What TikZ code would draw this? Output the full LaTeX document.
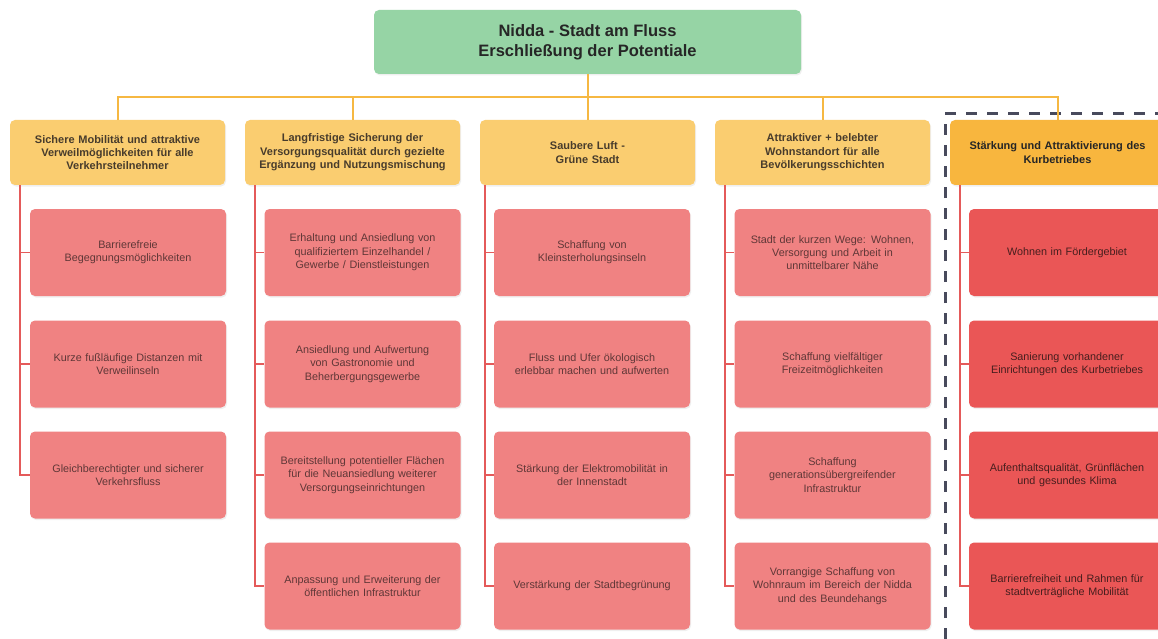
\documentclass[tikz,border=0pt]{standalone}
\usepackage{fontspec}
\setmainfont{Liberation Sans}
\usetikzlibrary{shadows}
\definecolor{titlegreen}{RGB}{150,212,165}
\definecolor{headyellow}{RGB}{250,205,112}
\definecolor{headorange}{RGB}{248,182,62}
\definecolor{childred}{RGB}{240,130,130}
\definecolor{childstrong}{RGB}{234,86,86}
\definecolor{linered}{RGB}{228,90,90}
\definecolor{lineorange}{RGB}{246,184,66}
\definecolor{dashgray}{RGB}{72,74,92}
\definecolor{headtext}{RGB}{72,60,44}
\definecolor{childtext}{RGB}{95,55,55}
\definecolor{childtextstrong}{RGB}{70,30,30}
\tikzset{
  x=1pt, y=-1pt,
  box/.style={rounded corners=5pt, align=center, inner sep=3pt,
    drop shadow={opacity=0.12, shadow xshift=1pt, shadow yshift=-1.5pt}},
  titlebox/.style={box, fill=titlegreen, minimum width=427pt, minimum height=64pt,
    font=\bfseries\fontsize{16.5}{20}\selectfont, text=black!85},
  headbox/.style={box, fill=headyellow, minimum width=215pt, minimum height=65pt,
    text width=209pt, font=\bfseries\fontsize{11}{13.4}\selectfont, text=headtext},
  headstrong/.style={headbox, fill=headorange, text=black!85},
  childbox/.style={box, fill=childred, minimum width=194pt, minimum height=87pt,
    text width=190pt, font=\fontsize{10.8}{13.3}\selectfont, text=childtext},
  childstrongbox/.style={childbox, fill=childstrong, text=childtextstrong},
  orln/.style={draw=lineorange, line width=2pt},
  redln/.style={draw=linered, line width=1.8pt},
  dashbox/.style={draw=dashgray, line width=3pt, dash pattern=on 11pt off 10pt}
}
\begin{document}
\begin{tikzpicture}
\useasboundingbox (0,0) rectangle (1158,639);
\clip (0,0) rectangle (1158,639);
\fill[white] (0,0) rectangle (1158,639);

% title
\node[titlebox] (title) at (587.5,42) {Nidda - Stadt am Fluss\\Erschließung der Potentiale};

% headings
\node[headbox] (h1) at (117.5,152.5) {Sichere Mobilität und attraktive\\Verweilmöglichkeiten für alle\\Verkehrsteilnehmer};
\node[headbox] (h2) at (352.5,152.5) {Langfristige Sicherung der\\Versorgungsqualität durch gezielte\\Ergänzung und Nutzungsmischung};
\node[headbox] (h3) at (587.5,152.5) {Saubere Luft -\\Grüne Stadt};
\node[headbox] (h4) at (822.5,152.5) {Attraktiver + belebter\\Wohnstandort für alle\\Bevölkerungsschichten};

% dashed frame
\coordinate (dA) at (945,660);
\coordinate (dB) at (945,114);
\coordinate (dC) at (1180,114);
\draw[dashbox] (dA) -- (dB) -- (dC);

\node[headstrong] (h5) at (1057.5,152.5) {Stärkung und Attraktivierung des\\Kurbetriebes};

% orange connectors
\coordinate (bus) at (587.5,97);
\draw[orln] (title.south) -- (title.south |- bus);
\draw[orln] (h1.north) -- (h1.north |- bus) -- (h5.north |- bus) -- (h5.north);
\draw[orln] (h2.north) -- (h2.north |- bus);
\draw[orln] (h3.north) -- (h3.north |- bus);
\draw[orln] (h4.north) -- (h4.north |- bus);

% column 1
\node[childbox] (c11) at (128,252.5) {Barrierefreie\\Begegnungsmöglichkeiten};
\node[childbox] (c12) at (128,364) {Kurze fußläufige Distanzen mit\\Verweilinseln};
\node[childbox] (c13) at (128,475) {Gleichberechtigter und sicherer\\Verkehrsfluss};

% column 2
\node[childbox] (c21) at (362.5,252.5) {Erhaltung und Ansiedlung von\\qualifiziertem Einzelhandel /\\Gewerbe / Dienstleistungen};
\node[childbox] (c22) at (362.5,364) {Ansiedlung und Aufwertung\\von Gastronomie und\\Beherbergungsgewerbe};
\node[childbox] (c23) at (362.5,475) {Bereitstellung potentieller Flächen\\für die Neuansiedlung weiterer\\Versorgungseinrichtungen};
\node[childbox] (c24) at (362.5,586) {Anpassung und Erweiterung der\\öffentlichen Infrastruktur};

% column 3
\node[childbox] (c31) at (592,252.5) {Schaffung von\\Kleinsterholungsinseln};
\node[childbox] (c32) at (592,364) {Fluss und Ufer ökologisch\\erlebbar machen und aufwerten};
\node[childbox] (c33) at (592,475) {Stärkung der Elektromobilität in\\der Innenstadt};
\node[childbox] (c34) at (592,586) {Verstärkung der Stadtbegrünung};

% column 4
\node[childbox] (c41) at (832.5,252.5) {Stadt der kurzen Wege: Wohnen,\\Versorgung und Arbeit in\\unmittelbarer Nähe};
\node[childbox] (c42) at (832.5,364) {Schaffung vielfältiger\\Freizeitmöglichkeiten};
\node[childbox] (c43) at (832.5,475) {Schaffung\\generationsübergreifender\\Infrastruktur};
\node[childbox] (c44) at (832.5,586) {Vorrangige Schaffung von\\Wohnraum im Bereich der Nidda\\und des Beundehangs};

% column 5
\node[childstrongbox] (c51) at (1067,252.5) {Wohnen im Fördergebiet};
\node[childstrongbox] (c52) at (1067,364) {Sanierung vorhandener\\Einrichtungen des Kurbetriebes};
\node[childstrongbox] (c53) at (1067,475) {Aufenthaltsqualität, Grünflächen\\und gesundes Klima};
\node[childstrongbox] (c54) at (1067,586) {Barrierefreiheit und Rahmen für\\stadtverträgliche Mobilität};

% red connectors
\foreach \c in {c11,c12,c13} \draw[redln] ([xshift=10pt]h1.south west) |- (\c.west);
\foreach \c in {c21,c22,c23,c24} \draw[redln] ([xshift=10pt]h2.south west) |- (\c.west);
\foreach \c in {c31,c32,c33,c34} \draw[redln] ([xshift=5pt]h3.south west) |- (\c.west);
\foreach \c in {c41,c42,c43,c44} \draw[redln] ([xshift=10pt]h4.south west) |- (\c.west);
\foreach \c in {c51,c52,c53,c54} \draw[redln] ([xshift=10pt]h5.south west) |- (\c.west);
\end{tikzpicture}
\end{document}
